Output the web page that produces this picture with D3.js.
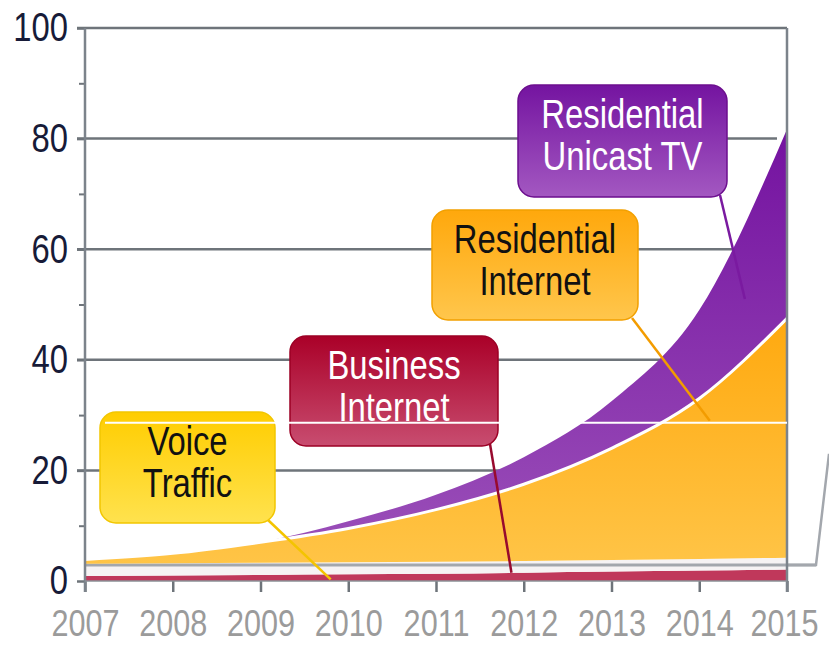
<!DOCTYPE html>
<html>
<head>
<meta charset="utf-8">
<script src="https://cdn.jsdelivr.net/npm/d3@7"></script>
<style>
  body { margin: 0; background: #fff; }
  svg { display: block; }
  text { font-family: "Liberation Sans", Arial, sans-serif; }
</style>
</head>
<body>
<svg id="chart"></svg>
<script>
// Chart data (stacked layer values)
const years = [2007, 2008, 2009, 2010, 2011, 2012, 2013, 2014, 2015];
const businessInternet = [0.9, 1.0, 1.1, 1.2, 1.3, 1.5, 1.7, 1.9, 2.1];
const voiceTraffic = [2.2, 2.2, 2.2, 2.2, 2.2, 2.1, 2.1, 2.1, 2.1];
const residentialInternet = [0.8, 1.8, 3.7, 6.1, 9.4, 13.9, 20.2, 29.0, 43.3];
const unicastTV = [0, 0, 0, 1.3, 2.7, 4.9, 8.5, 16.0, 34.2];
const majorTicks = [0, 20, 40, 60, 80, 100];
const minorTicks = [10, 30, 50, 70, 90];

const width = 829;
const height = 646;
const plot = { left: 85, right: 787, top: 28, bottom: 581 };
const squeeze = 0.82; // the original uses a condensed face

const x = d3.scaleLinear()
    .domain([2007, 2015])
    .range([plot.left, plot.right]);

const y = d3.scaleLinear()
    .domain([0, 100])
    .range([plot.bottom, plot.top]);

const svg = d3.select('svg#chart')
    .attr('width', width)
    .attr('height', height);

// squeeze a text horizontally to mimic the condensed face
function condense(sel, k = squeeze) {
    sel.each(function() {
        const w = this.getComputedTextLength();
        d3.select(this)
            .attr('textLength', w * k)
            .attr('lengthAdjust', 'spacingAndGlyphs');
    });
}

// Gradients for the areas and the callout boxes
const defs = svg.append('defs');
function grad(id, top, bottom) {
    const g = defs.append('linearGradient')
        .attr('id', id)
        .attr('x1', 0).attr('y1', 0).attr('x2', 0).attr('y2', 1);
    g.append('stop').attr('offset', '0%').attr('stop-color', top);
    g.append('stop').attr('offset', '100%').attr('stop-color', bottom);
}
grad('g-tv', '#7412a0', '#9b50b9');
grad('g-res', '#ffa90f', '#ffc446');
grad('g-box-tv', '#7414a0', '#a358c1');
grad('g-box-res', '#ffa80c', '#ffc64c');
grad('g-box-bus', '#aa0028', '#c84d70');
grad('g-box-voice', '#ffcd00', '#ffe24e');

// Gridlines
svg.append('g')
    .selectAll('line')
    .data(majorTicks.filter(d => d > 0))
    .enter()
    .append('line')
    .attr('x1', plot.left - 8)
    .attr('x2', d => d === 100 ? plot.right : plot.right - 10)
    .attr('y1', d => y(d))
    .attr('y2', d => y(d))
    .attr('stroke', '#6e747a')
    .attr('stroke-width', 2.5);

// Stacked layers
const keys = ['business', 'voice', 'residential', 'tv'];
const table = years.map((yr, i) => ({
    year: yr,
    business: businessInternet[i],
    voice: voiceTraffic[i],
    residential: residentialInternet[i],
    tv: unicastTV[i]
}));
const series = d3.stack().keys(keys)(table);

const area = d3.area()
    .x(d => x(d.data.year))
    .y0(d => y(d[0]))
    .y1(d => y(d[1]))
    .curve(d3.curveMonotoneX);

const fills = {
    business: '#c0385b',
    voice: '#f6f3f4',
    residential: 'url(#g-res)',
    tv: 'url(#g-tv)'
};

const layers = svg.append('g');
series.forEach(s => {
    layers.append('path')
        .datum(s)
        .attr('d', area)
        .attr('fill', fills[s.key]);
    if (s.key === 'voice') {
        // grey frame line that runs across the base of the chart
        layers.append('line')
            .attr('x1', x(2007))
            .attr('x2', x(2015) + 29)
            .attr('y1', y(2.9))
            .attr('y2', y(2.9))
            .attr('stroke', '#a3a7ad')
            .attr('stroke-width', 3);
    }
});

// white edge between residential internet and unicast TV
const topLine = d3.line()
    .x(d => x(d.data.year))
    .y(d => y(d[1]))
    .curve(d3.curveMonotoneX);
svg.append('path')
    .datum(series[2])
    .attr('d', topLine)
    .attr('fill', 'none')
    .attr('stroke', '#fff')
    .attr('stroke-width', 3);

// frame piece outside the plot on the right
svg.append('path')
    .attr('d', `M${x(2015)},${y(2.9)} L${x(2015) + 29},${y(2.9)} L${width},${y(23)}`)
    .attr('fill', 'none')
    .attr('stroke', '#a3a7ad')
    .attr('stroke-width', 2.5);

// Axes
const yAxis = d3.axisLeft(y)
    .tickValues(majorTicks)
    .tickSize(8)
    .tickPadding(9);
const gy = svg.append('g')
    .attr('transform', `translate(${plot.left}, 0)`)
    .call(yAxis);
gy.select('.domain').remove();
gy.selectAll('.tick line').attr('stroke', '#6e747a').attr('stroke-width', 2.5);
gy.selectAll('.tick text')
    .attr('fill', '#171b38')
    .style('font-size', '40px')
    .call(condense);

const yMinor = d3.axisLeft(y)
    .tickValues(minorTicks)
    .tickSize(6)
    .tickFormat('');
const gm = svg.append('g')
    .attr('transform', `translate(${plot.left}, 0)`)
    .call(yMinor);
gm.select('.domain').remove();
gm.selectAll('.tick line').attr('stroke', '#6e747a').attr('stroke-width', 2);

const xAxis = d3.axisBottom(x)
    .tickValues(years)
    .tickFormat(d3.format('d'))
    .tickSize(11)
    .tickPadding(18);
const gx = svg.append('g')
    .attr('transform', `translate(0, ${plot.bottom})`)
    .call(xAxis);
gx.select('.domain').remove();
gx.selectAll('.tick line').attr('stroke', '#6e747a').attr('stroke-width', 2.5);
gx.selectAll('.tick text')
    .attr('fill', '#9b9b9b')
    .attr('dx', d => d === 2015 ? -3 : 0)
    .style('font-size', '36px')
    .call(condense, 0.85);

// axis frame lines
svg.append('line')
    .attr('x1', plot.left).attr('x2', plot.left)
    .attr('y1', plot.top).attr('y2', plot.bottom + 11)
    .attr('stroke', '#7c838b').attr('stroke-width', 2.5);
svg.append('line')
    .attr('x1', plot.right).attr('x2', plot.right)
    .attr('y1', plot.top).attr('y2', plot.bottom + 11)
    .attr('stroke', '#7c838b').attr('stroke-width', 2.5);
svg.append('line')
    .attr('x1', plot.left).attr('x2', plot.right)
    .attr('y1', plot.bottom).attr('y2', plot.bottom)
    .attr('stroke', '#8a9096').attr('stroke-width', 1.5);

// Callouts
const callouts = [
    { lines: ['Residential', 'Unicast TV'], box: [518, 85, 209, 112], fill: 'url(#g-box-tv)', stroke: '#6c0e8e', text: '#fff',
      from: [720, 195], to: [2014.52, 51], line: '#7a1aa0' },
    { lines: ['Residential', 'Internet'], box: [432, 210, 206, 110], fill: 'url(#g-box-res)', stroke: '#f2a000', text: '#111',
      from: [632, 318], to: [2014.12, 29], line: '#f39c00' },
    { lines: ['Business', 'Internet'], box: [290, 336, 208, 110], fill: 'url(#g-box-bus)', stroke: '#9c0025', text: '#fff',
      from: [490, 444], to: [2011.86, 1.5], line: '#980a2e' },
    { lines: ['Voice', 'Traffic'], box: [100, 412, 175, 111], fill: 'url(#g-box-voice)', stroke: '#f2c600', text: '#111',
      from: [268, 520], to: [2009.8, 0.3], line: '#f4c400' }
];

const cg = svg.append('g');
callouts.forEach(c => {
    cg.append('line')
        .attr('x1', c.from[0]).attr('y1', c.from[1])
        .attr('x2', x(c.to[0])).attr('y2', y(c.to[1]))
        .attr('stroke', c.line)
        .attr('stroke-width', 2.5);
    cg.append('rect')
        .attr('x', c.box[0]).attr('y', c.box[1])
        .attr('width', c.box[2]).attr('height', c.box[3])
        .attr('rx', 16)
        .attr('fill', c.fill)
        .attr('stroke', c.stroke)
        .attr('stroke-width', 1.5);
    const cx = c.box[0] + c.box[2] / 2;
    c.lines.forEach((t, i) => {
        cg.append('text')
            .attr('x', cx)
            .attr('y', c.box[1] + 43 + i * 42)
            .attr('text-anchor', 'middle')
            .attr('fill', c.text)
            .style('font-size', '40px')
            .text(t)
            .call(condense);
    });
});

// thin white highlight line that crosses the lower callouts and the chart
svg.append('line')
    .attr('x1', 105)
    .attr('x2', x(2015))
    .attr('y1', y(28.6))
    .attr('y2', y(28.6))
    .attr('stroke', '#fff')
    .attr('stroke-width', 2);
</script>
</body>
</html>
